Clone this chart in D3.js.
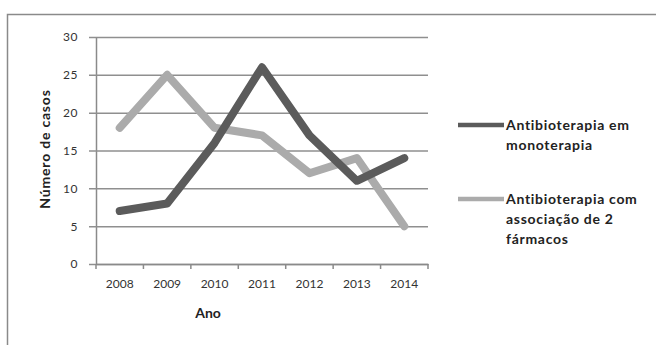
<!DOCTYPE html>
<html>
<head>
<script src="https://d3js.org/d3.v7.min.js"></script>
<style>
  body { margin: 0; background: #fff; }
  text { font-family: Lato, "Open Sans", sans-serif; }
</style>
</head>
<body>
<div id="my_dataviz"></div>
<script>
// data
var years = ["2008", "2009", "2010", "2011", "2012", "2013", "2014"];
var mono = [7, 8, 16, 26, 17, 11, 14];
var assoc = [18, 25, 18, 17, 12, 14, 5];
var yTicks = [0, 5, 10, 15, 20, 25, 30];
var seriesNames = [
  ["Antibioterapia em", "monoterapia"],
  ["Antibioterapia com", "associação de 2", "fármacos"]
];
var colors = ["#5b5b5b", "#ababab"];

var svg = d3.select("#my_dataviz")
  .append("svg")
    .attr("width", 656)
    .attr("height", 345);

// outer frame (cut off on right and bottom like the source)
svg.append("rect")
  .attr("x", 7.5).attr("y", 14.5)
  .attr("width", 700).attr("height", 400)
  .attr("fill", "none")
  .attr("stroke", "#8a8a8a")
  .attr("stroke-width", 1.5);

var g = svg.append("g").attr("transform", "translate(96,37)");
var W = 332, H = 227;

var x = d3.scaleBand().domain(years).range([0, W]);
var y = d3.scaleLinear().domain([0, 30]).range([H, 0]);

// gridlines + y axis
var yAxis = g.append("g")
  .call(d3.axisLeft(y).tickValues(yTicks).tickSize(-W).tickSizeOuter(0).tickPadding(18));
yAxis.select(".domain").attr("stroke", "#8a8a8a").attr("stroke-width", 1.5);
yAxis.selectAll(".tick line")
  .attr("x1", -7)
  .attr("stroke", "#8f8f8f").attr("stroke-width", 1.5);
yAxis.selectAll(".tick text")
  .attr("fill", "#333").style("font-size", "12px").style("letter-spacing", "0.5px");

// x axis with ticks at band edges
var xAxis = g.append("g").attr("transform", "translate(0," + H + ")")
  .call(d3.axisBottom(x).tickSize(0).tickPadding(15));
xAxis.select(".domain").attr("stroke", "#8a8a8a").attr("stroke-width", 1.5);
xAxis.selectAll(".tick text").attr("fill", "#333").style("font-size", "12px");
g.append("g").selectAll("line")
  .data(years.concat(["end"]))
  .enter().append("line")
    .attr("x1", function(d, i) { return i * x.step(); })
    .attr("x2", function(d, i) { return i * x.step(); })
    .attr("y1", H).attr("y2", H + 5)
    .attr("stroke", "#8a8a8a").attr("stroke-width", 1.5);

// lines
var line = d3.line()
  .x(function(d, i) { return x(years[i]) + x.bandwidth() / 2; })
  .y(function(d) { return y(d); });

[assoc, mono].forEach(function(s) {
  g.append("path")
    .datum(s)
    .attr("d", line)
    .attr("fill", "none")
    .attr("stroke", s === mono ? colors[0] : colors[1])
    .attr("stroke-width", 8)
    .attr("stroke-linejoin", "round")
    .attr("stroke-linecap", "round");
});

// axis titles
svg.append("text")
  .attr("x", 208).attr("y", 318)
  .attr("text-anchor", "middle")
  .style("font-size", "14px").style("font-weight", "bold").attr("fill", "#222")
  .text("Ano");
svg.append("text")
  .attr("transform", "translate(50,149) rotate(-90)")
  .attr("text-anchor", "middle")
  .style("font-size", "14px").style("font-weight", "bold").attr("fill", "#222")
  .style("letter-spacing", "0.8px")
  .text("Número de casos");

// legend
var legY = [125, 199];
seriesNames.forEach(function(lines, i) {
  var lg = svg.append("g").attr("transform", "translate(458," + legY[i] + ")");
  lg.append("line")
    .attr("x1", 0).attr("x2", 46).attr("y1", 0).attr("y2", 0)
    .attr("stroke", colors[i]).attr("stroke-width", 4.5);
  lg.selectAll("text").data(lines).enter().append("text")
    .attr("x", 48)
    .attr("y", function(d, j) { return 5 + j * 20; })
    .style("font-size", "14px").style("font-weight", "bold").attr("fill", "#222")
    .style("letter-spacing", "0.7px")
    .text(function(d) { return d; });
});
</script>
</body>
</html>
